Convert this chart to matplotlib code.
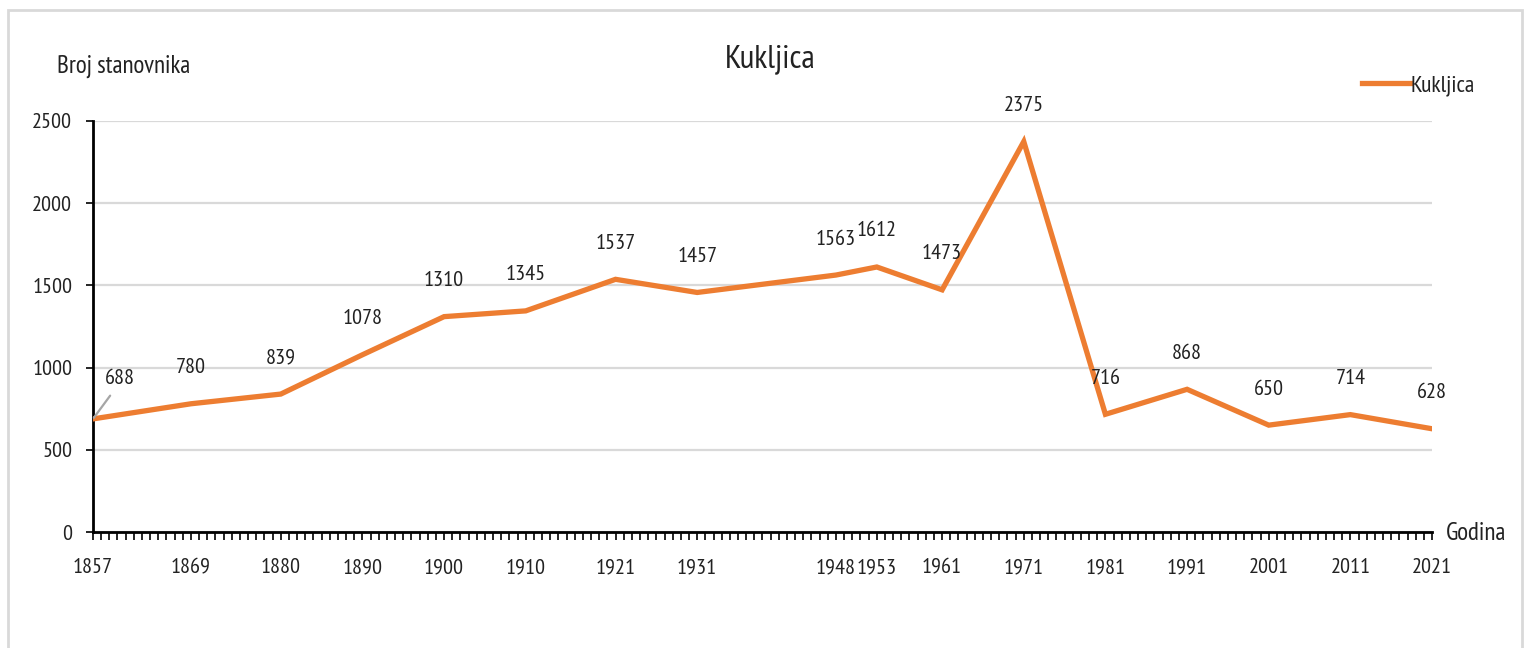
import matplotlib
matplotlib.use("Agg")
import matplotlib.pyplot as plt
from matplotlib.ticker import MultipleLocator, FixedLocator
from matplotlib.patches import Rectangle

years = [1857, 1869, 1880, 1890, 1900, 1910, 1921, 1931, 1948, 1953,
         1961, 1971, 1981, 1991, 2001, 2011, 2021]
population = [688, 780, 839, 1078, 1310, 1345, 1537, 1457, 1563, 1612,
              1473, 2375, 716, 868, 650, 714, 628]
series_name = "Kukljica"

ORANGE = "#ED7D31"
GRID = "#D9D9D9"
TXT = "#222222"
FS = 16
plt.rcParams["font.family"] = ["PT Sans Narrow", "DejaVu Sans"]

W, H = 1531, 648
fig = plt.figure(figsize=(W / 100, H / 100), dpi=100)
fig.patch.set_facecolor("white")

# light frame around the chart area
fig.add_artist(Rectangle((8 / W, -0.05), (1522 - 8) / W, 1.05 - 10 / H,
                         transform=fig.transFigure, fill=False,
                         edgecolor=GRID, lw=2))

ax = fig.add_axes([93 / W, 1 - 532 / H, (1432 - 93) / W, (532 - 121) / H])
ax.plot(years, population, color=ORANGE, lw=3.8, solid_joinstyle="miter",
        label=series_name, zorder=3)

ax.set_xlim(1857, 2021)
ax.set_ylim(0, 2500)
ax.set_yticks(range(0, 2501, 500))
ax.yaxis.grid(True, color=GRID, lw=1.6)
ax.set_axisbelow(True)

ax.xaxis.set_major_locator(FixedLocator(years))
ax.set_xticklabels([str(y) for y in years])
ax.xaxis.set_minor_locator(MultipleLocator(1))
ax.tick_params(axis="x", which="both", length=6, width=1.2, direction="out",
               pad=13, labelsize=FS, labelcolor=TXT)
ax.tick_params(axis="y", length=5, width=1.2, pad=10, labelsize=FS,
               labelcolor=TXT)

for s in ["top", "right"]:
    ax.spines[s].set_visible(False)
for s in ["left", "bottom"]:
    ax.spines[s].set_linewidth(2)
    ax.spines[s].set_color("black")

for i, (x, y) in enumerate(zip(years, population)):
    if i == 0:
        # first label sits off to the right, with a grey leader line
        ax.annotate(str(y), (x, y), xytext=(27, 40), textcoords="offset pixels",
                    ha="center", va="center", fontsize=FS, color=TXT,
                    arrowprops=dict(arrowstyle="-", color="#A6A6A6", lw=1.6,
                                    relpos=(0.35, 0.0), shrinkA=4, shrinkB=1))
    else:
        ax.annotate(str(y), (x, y), xytext=(0, 36), textcoords="offset pixels",
                    ha="center", va="center", fontsize=FS, color=TXT,
                    zorder=4)

fig.text(770 / W, 1 - 60 / H, "Kukljica", ha="center", va="center",
         fontsize=24, color=TXT)
fig.text(57 / W, 1 - 66 / H, "Broj stanovnika", ha="left", va="center",
         fontsize=18, color=TXT)
fig.text(1446 / W, 1 - 533 / H, "Godina", ha="left", va="center",
         fontsize=18, color=TXT)

leg = fig.legend(loc="center left", bbox_to_anchor=(1353 / W, 1 - 85 / H),
                 frameon=False, fontsize=17, handlelength=2.0,
                 handletextpad=0.05, borderaxespad=0)
for t in leg.get_texts():
    t.set_color(TXT)

fig.savefig("out.png", dpi=100, facecolor="white")
